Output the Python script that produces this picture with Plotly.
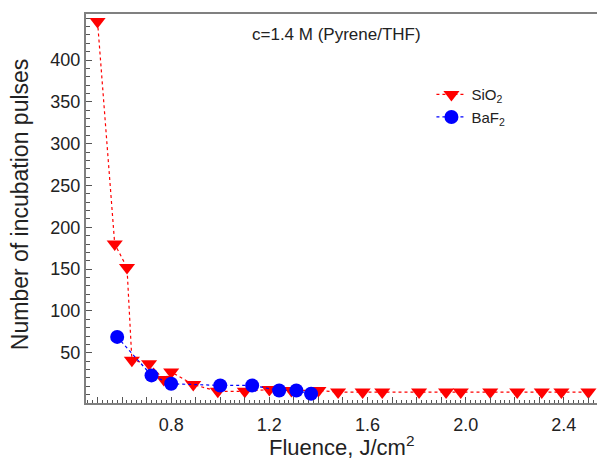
import plotly.graph_objects as go

# SiO2 (triangles) and BaF2 (circles)
sio2_fluence = [0.50, 0.57, 0.62, 0.64, 0.71, 0.77, 0.80, 0.89, 0.99, 1.10, 1.20, 1.29,
                1.40, 1.48, 1.58, 1.66, 1.81, 1.92, 1.98, 2.10, 2.21, 2.31, 2.39, 2.50]
sio2_pulses = [446, 180, 152, 41, 37, 18, 27, 12, 4, 4, 6, 5,
               5, 3, 3, 3, 3, 3, 3, 3, 3, 3, 3, 3]

baf2_fluence = [0.58, 0.72, 0.80, 1.00, 1.13, 1.24, 1.31, 1.37]
baf2_pulses = [69, 23, 13, 11, 11, 5, 5, 1]

x_tickvals = [0.5, 0.6, 0.7, 0.8, 0.9, 1.0, 1.1, 1.2, 1.3, 1.4, 1.5, 1.6, 1.7,
              1.8, 1.9, 2.0, 2.1, 2.2, 2.3, 2.4, 2.5]
x_ticktext = ["", "", "", "0.8", "", "", "", "1.2", "", "", "", "1.6", "",
              "", "", "2.0", "", "", "", "2.4", ""]
y_tickvals = [50, 100, 150, 200, 250, 300, 350, 400]

FONT = "Arial, Liberation Sans, sans-serif"

fig = go.Figure()

fig.add_trace(go.Scatter(
    x=sio2_fluence, y=sio2_pulses, name="SiO<sub>2</sub>",
    mode="lines+markers",
    line=dict(color="#ff0000", width=1.2, dash="dot"),
    marker=dict(symbol="triangle-down", size=14, color="#ff0000"),
))
fig.add_trace(go.Scatter(
    x=baf2_fluence, y=baf2_pulses, name="BaF<sub>2</sub>",
    mode="lines+markers",
    line=dict(color="#0000ff", width=1.2, dash="dot"),
    marker=dict(symbol="circle", size=14, color="#0000ff"),
))

fig.update_layout(
    width=597, height=463,
    margin=dict(l=86, r=0, t=14, b=60),
    plot_bgcolor="white", paper_bgcolor="white",
    font=dict(family=FONT, color="#222222", size=18),
    showlegend=True,
    legend=dict(
        x=0.676, y=0.835, xanchor="left", yanchor="top",
        bgcolor="rgba(0,0,0,0)", font=dict(size=15),
        itemwidth=30, tracegroupgap=0,
    ),
    annotations=[
        dict(text="c=1.4 M (Pyrene/THF)", xref="paper", yref="paper",
             x=0.491, y=0.978, showarrow=False, font=dict(size=17)),
        dict(text="Fluence, J/cm<sup>2</sup>", xref="paper", yref="paper",
             x=0.5, y=-0.11, yanchor="middle", showarrow=False,
             font=dict(size=22)),
        dict(text="Number of incubation pulses", xref="paper", yref="paper",
             x=-0.13, y=0.51, xanchor="center", yanchor="middle", textangle=-90,
             showarrow=False, font=dict(size=23)),
    ],
)

fig.update_xaxes(
    range=[0.453, 2.535], automargin=False,
    tickvals=x_tickvals, ticktext=x_ticktext,
    ticks="inside", ticklen=6, tickwidth=1.2, tickcolor="#555555",
    minor=dict(dtick=0.02, tick0=0, ticks="inside", ticklen=3, tickcolor="#555555"),
    showline=True, linecolor="#808080", linewidth=2, mirror=True,
    showgrid=False, zeroline=False,
    tickfont=dict(size=18), ticklabelstandoff=4,
)
fig.update_yaxes(
    range=[-10, 455], automargin=False,
    tickvals=y_tickvals,
    ticks="inside", ticklen=6, tickwidth=1.2, tickcolor="#555555",
    minor=dict(dtick=10, tick0=0, ticks="inside", ticklen=4, tickcolor="#555555"),
    showline=True, linecolor="#808080", linewidth=2,
    showgrid=False, zeroline=False,
    tickfont=dict(size=18), ticklabelstandoff=0,
)

# the page's default body margin would shift the figure by 8px
fig.write_html("out.html", config={"displayModeBar": False},
               post_script="document.body.style.margin='0';")
